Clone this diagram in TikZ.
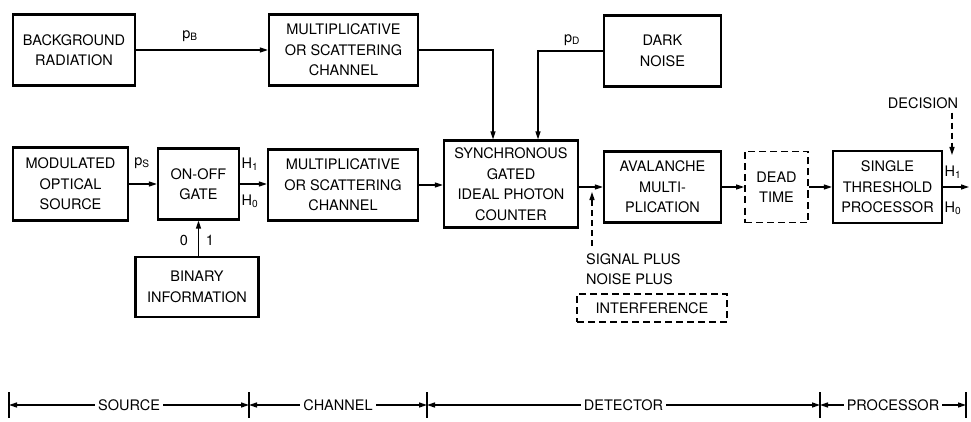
\documentclass[tikz,border=0pt]{standalone}
\usepackage{fontspec}
\setmainfont{TeX Gyre Heros}
\usetikzlibrary{arrows.meta}

\begin{document}
\begin{tikzpicture}[x=1pt,y=-1pt,>={Triangle[length=8pt,width=5pt]}]
\tikzstyle{every node}+=[font=\fontsize{14.5}{20.5}\selectfont, align=center, inner sep=0pt]
\tikzstyle{blk}=[draw, line width=2.2pt, minimum height=71pt]
\tikzstyle{dblk}=[blk, line width=1.8pt, dash pattern=on 7pt off 4pt]
\tikzstyle{wire}=[line width=1.3pt]
\tikzstyle{dwire}=[wire, dash pattern=on 6pt off 4pt]
\useasboundingbox (0,0) rectangle (971,422);
\node [blk, minimum width=122pt] (bgrad) at (74,50) {BACKGROUND\\RADIATION};
\node [blk, minimum width=149pt] (mtop) at (343.5,50) {MULTIPLICATIVE\\OR SCATTERING\\CHANNEL};
\node [blk, minimum width=117pt] (dark) at (662.5,51) {DARK\\NOISE};
\node [blk, minimum width=115pt, minimum height=73pt] (mos) at (70.5,184) {MODULATED\\OPTICAL\\SOURCE};
\node [blk, minimum width=81pt] (gate) at (198.5,184) {ON-OFF\\GATE};
\node [blk, minimum width=150pt] (mbot) at (343,185) {MULTIPLICATIVE\\OR SCATTERING\\CHANNEL};
\node [blk, minimum width=134pt, minimum height=87pt] (sync) at (511,184) {SYNCHRONOUS\\GATED\\IDEAL PHOTON\\COUNTER};
\node [blk, minimum width=117pt] (aval) at (662.5,187) {AVALANCHE\\MULTI-\\PLICATION};
\node [dblk, minimum width=63pt] (dead) at (776.5,187) {DEAD\\TIME};
\node [blk, minimum width=109pt, minimum height=72pt] (proc) at (887.5,187) {SINGLE\\THRESHOLD\\PROCESSOR};
\node [blk, minimum width=123pt, minimum height=60pt] (bin) at (197,287) {BINARY\\INFORMATION};
\node [align=left, anchor=north west] (sig) at (586,253) {SIGNAL PLUS\\NOISE PLUS};
\node [dblk, minimum width=150pt, minimum height=28pt] (intf) at (652,308) {INTERFERENCE};
\node (dec) at (923,103) {DECISION};
\coordinate (out) at (969,187);
\coordinate (dectip) at (952,155);
\coordinate (sigtail) at (592,246);
\coordinate (sigtip) at (592,192);
\draw [wire,->] (bgrad) -- (mtop);
\draw [wire,->] (mtop.east) -| ([xshift=-18pt]sync.north);
\draw [wire,->] (dark.west) -| ([xshift=27pt]sync.north);
\draw [wire,->] (mos) -- (gate);
\draw [wire,->] (gate) -- (mbot.west |- gate);
\draw [wire,->] (mbot) -- (sync.west |- mbot);
\draw [wire,->] (sync.east |- aval) -- (aval);
\draw [wire,->] (aval) -- (dead);
\draw [wire,->] (dead) -- (proc);
\draw [wire,->] (proc) -- (out);
\draw [wire,->] (bin.north -| gate.south) -- (gate.south);
\draw [dwire,->] (dec.south -| dectip) ++(0,4) -- (dectip);
\draw [dwire,->] (sigtail) -- (sigtip);
\node at (190,36) {p\textsubscript{B}};
\node at (572,40) {p\textsubscript{D}};
\node at (142,163) {p\textsubscript{S}};
\node at (250,164) {H\textsubscript{1}};
\node at (250,201) {H\textsubscript{0}};
\node at (953,172) {H\textsubscript{1}};
\node at (953,208) {H\textsubscript{0}};
\node at (184,240) {0};
\node at (210,240) {1};
\foreach \n/\x in {b0/9,b1/249,b2/427,b3/820,b4/966} {
  \coordinate (\n) at (\x,405);
  \draw [wire] (\x,392) -- (\x,418);
}
\draw [wire,<->] (b0) -- node [fill=white, inner xsep=3pt] {SOURCE} (b1);
\draw [wire,<->] (b1) -- node [fill=white, inner xsep=3pt] {CHANNEL} (b2);
\draw [wire,<->] (b2) -- node [fill=white, inner xsep=3pt] {DETECTOR} (b3);
\draw [wire,<->] (b3) -- node [fill=white, inner xsep=3pt] {PROCESSOR} (b4);
\end{tikzpicture}
\end{document}
